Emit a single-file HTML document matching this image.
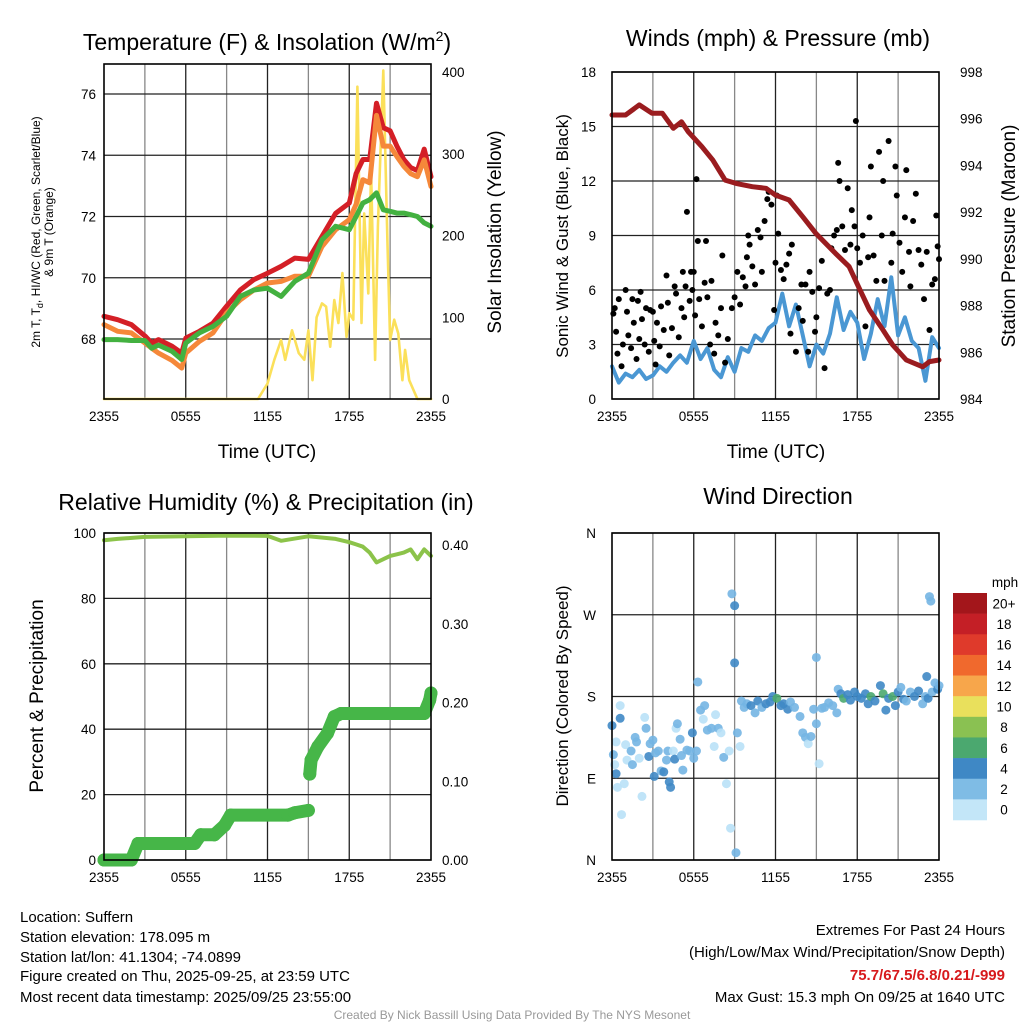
<!DOCTYPE html>
<html><head><meta charset="utf-8"><style>
body{margin:0;background:#fff}
svg{display:block;font-family:"Liberation Sans",Arial,sans-serif}
</style></head><body>
<svg id="s" width="1024" height="1024" viewBox="0 0 1024 1024" xmlns="http://www.w3.org/2000/svg">
<g id="g1"></g>
<g id="g2"></g>
<g id="g3"></g>
<g id="g4"></g>
<text x="267" y="50" font-size="23" text-anchor="middle">Temperature (F) &amp; Insolation (W/m<tspan font-size="14" dy="-9">2</tspan><tspan dy="9">)</tspan></text>
<text x="778" y="46" font-size="23" text-anchor="middle">Winds (mph) &amp; Pressure (mb)</text>
<text x="266" y="510" font-size="23" text-anchor="middle">Relative Humidity (%) &amp; Precipitation (in)</text>
<text x="778" y="504" font-size="23" text-anchor="middle">Wind Direction</text>
<text x="267" y="458" font-size="19" text-anchor="middle">Time (UTC)</text>
<text x="776" y="458" font-size="19" text-anchor="middle">Time (UTC)</text>
<text transform="translate(40,232) rotate(-90)" font-size="12" text-anchor="middle">2m T, T<tspan font-size="9" dy="3">d</tspan><tspan dy="-3">, HI/WC (Red, Green, Scarlet/Blue)</tspan></text>
<text transform="translate(53,232) rotate(-90)" font-size="12" text-anchor="middle">&amp; 9m T (Orange)</text>
<text transform="translate(501,232) rotate(-90)" font-size="19" text-anchor="middle">Solar Insolation (Yellow)</text>
<text transform="translate(568,236) rotate(-90)" font-size="17" text-anchor="middle">Sonic Wind &amp; Gust (Blue, Black)</text>
<text transform="translate(1015,236) rotate(-90)" font-size="19" text-anchor="middle">Station Pressure (Maroon)</text>
<text transform="translate(43,696) rotate(-90)" font-size="19" text-anchor="middle">Percent &amp; Precipitation</text>
<text transform="translate(568,696) rotate(-90)" font-size="17" text-anchor="middle">Direction (Colored By Speed)</text>
<g font-size="15">
<text x="20" y="922">Location: Suffern</text>
<text x="20" y="942">Station elevation: 178.095 m</text>
<text x="20" y="962">Station lat/lon: 41.1304; -74.0899</text>
<text x="20" y="981">Figure created on Thu, 2025-09-25, at 23:59 UTC</text>
<text x="20" y="1002">Most recent data timestamp: 2025/09/25 23:55:00</text>
</g>
<g font-size="15" text-anchor="end">
<text x="1005" y="935">Extremes For Past 24 Hours</text>
<text x="1005" y="957">(High/Low/Max Wind/Precipitation/Snow Depth)</text>
<text x="1005" y="980" fill="#d7191c" font-weight="bold">75.7/67.5/6.8/0.21/-999</text>
<text x="1005" y="1002">Max Gust: 15.3 mph On 09/25 at 1640 UTC</text>
</g>
<text x="512" y="1019" font-size="12" fill="#999" text-anchor="middle">Created By Nick Bassill Using Data Provided By The NYS Mesonet</text>
</svg>
<script>
// ---- data ----
const xTickLabels=["2355","0555","1155","1755","2355"];
const tT=[0,1,2,3,3.5,4,5,5.7,6,7,8,9,10,11,12,13,14,15,16,17,18,18.5,19,19.5,20,20.5,21,21.5,22,22.5,23,23.5,24];
const tRed=[68.74,68.63,68.47,68.1,67.87,67.98,67.76,67.54,68.03,68.25,68.52,69.07,69.6,69.94,70.15,70.37,70.64,70.6,71.35,72.1,72.44,73.4,73.86,73.86,75.7,74.9,74.8,74.3,73.86,73.6,73.5,74.2,73.3];
const tOrange=[68.47,68.25,68.2,67.87,67.7,67.54,67.3,67.05,67.54,67.92,68.2,68.85,69.28,69.6,69.83,69.88,70.05,70.05,71.02,71.57,71.9,72.4,73.2,73.1,75.3,74.3,74.3,73.96,73.64,73.4,73.3,73.85,72.98];
const tGreen=[67.98,67.98,67.95,67.95,67.7,67.8,67.6,67.33,67.87,68.2,68.41,68.74,69.39,69.6,69.66,69.39,69.88,70.15,71.24,71.68,71.57,72.0,72.44,72.55,72.77,72.22,72.17,72.11,72.11,72.06,72.0,71.79,71.68];
const sT=[0,11.3,12,12.5,13,13.3,13.8,14.3,14.7,15,15.3,15.6,16,16.3,16.6,16.9,17.2,17.5,17.8,18,18.3,18.6,18.9,19.1,19.4,19.6,19.9,20.1,20.5,20.8,21,21.3,21.6,21.9,22.1,22.4,23,24];
const sV=[0,0,19,48,72,48,84,56,48,84,23,100,117,113,64,121,93,154,76,105,97,382,93,227,129,280,48,211,402,194,72,97,80,23,60,23,0,0];
const tempTicks=[68,70,72,74,76];
const solarTicks=[0,100,200,300,400];
const pT=[0,1,2,2.94,3.7,4.5,5.1,5.6,6.6,7.4,8.3,9.1,10.3,11.3,12,13,14,14.95,16.4,17.4,18.1,18.9,19.9,20.6,21.6,22.8,23.3,24];
const pV=[996.16,996.16,996.59,996.23,996.23,995.59,995.87,995.44,994.8,994.23,993.37,993.23,993.09,993.02,992.73,992.52,991.8,991.1,990.24,989.67,988.8,987.81,986.95,986.31,985.67,985.38,985.6,985.67];
const wV=[1.8,0.9,1.4,1.2,1.6,1.1,1.3,1.8,1.5,2.0,2.4,2.0,3.2,2.2,2.8,1.6,1.2,2.3,1.5,2.8,2.6,3.5,3.2,3.9,4.2,5.8,4.0,5.2,3.5,1.8,3.0,2.5,3.6,5.6,3.8,4.8,4.2,2.2,3.6,5.5,4.0,6.7,3.5,4.5,3.2,2.8,1.0,3.4,2.8];
const gT=[0.1,0.2,0.3,0.4,0.5,0.7,0.8,1.0,1.1,1.2,1.4,1.5,1.6,1.8,1.9,2.0,2.1,2.2,2.4,2.5,2.7,2.8,3.0,3.1,3.2,3.3,3.5,3.6,3.8,4.0,4.1,4.2,4.4,4.6,4.7,4.9,5.1,5.2,5.3,5.4,5.5,5.7,5.8,5.9,6.0,6.1,6.2,6.3,6.4,6.6,6.8,6.9,7.0,7.2,7.3,7.5,7.6,7.8,8.0,8.1,8.3,8.5,8.8,9.0,9.2,9.4,9.6,9.8,9.9,10.0,10.1,10.3,10.5,10.7,10.9,11.0,11.2,11.4,11.5,11.7,11.9,12.0,12.1,12.2,12.4,12.6,12.8,13.0,13.1,13.2,13.5,13.7,13.9,14.0,14.2,14.4,14.5,14.7,14.9,15.0,15.2,15.4,15.6,15.8,16.0,16.1,16.3,16.5,16.6,16.7,16.9,17.1,17.3,17.5,17.6,17.8,17.9,18.0,18.2,18.4,18.6,18.8,18.9,19.0,19.2,19.4,19.6,19.8,19.9,20.0,20.3,20.5,20.6,20.8,20.9,21.1,21.3,21.5,21.6,21.8,21.9,22.1,22.3,22.5,22.7,22.9,23.1,23.3,23.5,23.7,23.8,23.9,24.0];
const gV=[4.7,5.0,3.7,2.5,5.5,1.8,3.0,6.0,4.8,3.5,2.8,5.5,4.2,2.2,5.4,3.3,5.9,4.4,3.0,5.0,2.6,4.9,4.8,3.2,1.9,4.2,2.9,5.1,3.8,6.8,5.3,2.4,3.9,6.2,5.8,3.4,5.0,7.0,4.5,6.2,10.3,5.4,7.0,6.0,7.0,4.6,12.1,8.7,5.5,4.0,6.4,8.7,5.6,3.0,6.5,2.5,4.2,3.5,5.0,7.9,2.0,3.3,5.0,5.6,7.0,5.2,6.7,6.2,7.8,9.0,8.5,7.3,6.3,9.3,8.9,7.0,9.8,11.0,11.4,10.7,4.9,7.5,11.2,9.1,7.1,6.6,7.4,8.0,3.6,8.5,2.6,5.0,6.3,4.3,6.3,2.6,7.0,5.9,3.7,4.5,6.1,7.6,1.7,5.8,6.0,8.3,9.0,9.3,13.0,12.0,9.5,8.2,11.6,8.5,10.4,9.5,15.3,8.3,7.5,9.0,4.0,7.8,10.0,12.8,7.9,6.5,13.6,9.0,12.0,6.5,14.2,7.5,9.1,12.8,11.2,8.6,7.0,10.0,12.6,8.1,6.2,9.8,11.3,8.2,7.4,5.5,8.1,3.8,6.3,6.6,10.1,8.4,7.7];
const windTicks=[0,3,6,9,12,15,18];
const presTicks=[984,986,988,990,992,994,996,998];
const rhT=[0,1,3,6,9,12,13,15,17,18,18.5,19,19.5,20,20.5,21,21.5,22,22.5,23,23.5,24];
const rhV=[97.8,98.2,98.8,99.0,99.2,99.1,97.6,99.0,98.2,97.2,96.5,95.8,94.0,91.0,92.0,93.0,93.5,94.0,95.0,92.0,95.0,93.0];
const prT=[0,2.0,2.5,6.65,7.1,8.1,8.85,9.3,13.5,14,15,15.1,15.2,15.7,16.4,16.9,17.4,23.5,23.9,24];
const prV=[0,0,0.021,0.021,0.032,0.032,0.044,0.057,0.057,0.06,0.063,0.109,0.127,0.144,0.161,0.182,0.186,0.186,0.203,0.212];
const pctTicks=[0,20,40,60,80,100];
const inTicks=["0.00","0.10","0.20","0.30","0.40"];
const dT=[0.0,0.1,0.2,0.3,0.4,0.3,0.6,0.6,0.7,0.9,1.0,1.1,1.4,1.5,1.7,1.8,2.0,2.2,2.4,2.5,2.7,2.8,3.0,3.1,3.2,3.4,3.6,3.8,4.0,4.1,4.2,4.3,4.5,4.6,4.7,4.8,5.0,5.1,5.2,5.5,5.7,5.9,6.0,6.2,6.3,6.5,6.7,6.8,7.0,7.3,7.5,7.6,7.8,8.0,8.2,8.4,8.6,8.7,8.8,9.0,9.0,9.1,9.2,9.4,9.5,9.7,9.9,10.2,10.5,10.7,11.0,11.3,11.6,11.8,12.1,12.4,12.6,12.9,13.1,13.4,13.8,14.0,14.2,14.4,14.6,14.8,15.0,15.2,15.4,15.0,15.6,15.9,16.2,16.5,16.6,16.8,17.0,17.3,17.5,17.8,18.0,18.3,18.6,18.8,19.0,19.3,19.7,19.9,20.1,20.3,20.6,20.8,21.0,21.2,21.4,21.6,21.9,22.2,22.5,22.8,23.0,23.1,23.2,23.3,23.4,23.5,23.7,23.9,24.0];
const dD=[148,116,105,95,80,130,170,156,50,84,127,110,120,105,135,130,112,70,157,145,114,128,132,92,118,120,98,97,110,120,86,80,120,111,145,150,133,115,99,121,120,140,112,120,196,165,155,170,143,145,125,160,145,140,113,84,120,35,293,280,217,8,140,125,175,168,172,170,162,175,168,172,174,180,178,170,172,166,174,168,158,140,135,128,136,166,150,106,167,223,168,173,170,162,188,183,178,182,176,185,180,178,183,172,180,175,192,183,165,178,180,170,185,190,177,175,185,180,186,172,180,202,178,290,285,185,195,188,192];
const dC=[2,1,0,2,0,0,0,2,0,0,0,0,1,1,1,1,0,0,0,1,2,1,1,2,1,1,1,2,1,1,2,2,0,2,0,1,1,1,1,1,1,2,1,1,1,1,0,1,1,1,0,0,1,0,1,0,0,0,1,2,2,1,1,0,1,1,1,2,1,2,1,2,2,2,3,2,2,2,1,1,1,1,1,0,1,1,1,0,1,1,1,1,1,1,1,2,3,2,2,2,2,2,2,2,3,2,2,3,2,2,3,2,2,1,2,1,1,2,2,1,1,2,2,1,1,1,1,2,1];
const cbLabels=["20+","18","16","14","12","10","8","6","4","2","0"];
const cbColors=["#a3161b","#c41f26","#df3a2b","#f0692d","#f7a64b","#e9e05c","#8ac152","#4ba86f","#3f88c5","#7fbce5","#c3e6f8"];
const dirColors=["#b9e1f7","#74b5e3","#3f88c5","#4ba86f"];

const NS="http://www.w3.org/2000/svg";
function mk(parent,tag,attrs){const e=document.createElementNS(NS,tag);for(const k in attrs)e.setAttribute(k,attrs[k]);parent.appendChild(e);return e;}
function panelFrame(g,x0,y0,x1,y1){
  for(let i=1;i<8;i++){const x=x0+(x1-x0)*i/8;
    const l=mk(g,"line",{x1:x,x2:x,y1:y0,y2:y1,stroke:i%2?"#888":"#222","stroke-width":1.3});
    
    }
  xTickLabels.forEach((s,i)=>{const t=mk(g,"text",{x:x0+(x1-x0)*i/4,y:y1+22,"font-size":13.5,"text-anchor":"middle"});t.textContent=s;
    
    });
}
function hline(g,x0,x1,y){const l=mk(g,"line",{x1:x0,x2:x1,y1:y,y2:y,stroke:"#222","stroke-width":1.3});
  
  }
function border(g,x0,y0,x1,y1){const r=mk(g,"rect",{x:x0,y:y0,width:x1-x0,height:y1-y0,fill:"none",stroke:"#000","stroke-width":1.6});
  
  }
function label(g,x,y,s,anchor,name){const t=mk(g,"text",{x:x,y:y+5,"font-size":13.5,"text-anchor":anchor});t.textContent=s;
  
  }
function poly(g,xs,ys,fx,fy,color,w,name){
  const pts=xs.map((h,i)=>fx(h).toFixed(1)+","+fy(ys[i]).toFixed(1)).join(" ");
  const p=mk(g,"polyline",{points:pts,fill:"none",stroke:color,"stroke-width":w,"stroke-linejoin":"round","stroke-linecap":"round"});
  
  }

// Panel 1
(function(){
  const g=document.getElementById("g1");const X0=104,X1=431,Y0=64,Y1=399;
  const fx=h=>X0+h/24*(X1-X0), fy=t=>339-(t-68)*30.625, fs=v=>399-v*0.8175;
  panelFrame(g,X0,Y0,X1,Y1);
  tempTicks.forEach(t=>{hline(g,X0,X1,fy(t));label(g,96,fy(t),String(t),"end","temp-tick-label");});
  solarTicks.forEach(v=>label(g,442,fs(v),String(v),"start","solar-tick-label"));
  poly(g,sT,sV,fx,fs,"#fbe05a",2.6,"solar-line");
  poly(g,tT,tRed,fx,fy,"#d41f26",5,"temp-2m-line");
  poly(g,tT,tOrange,fx,fy,"#f5883a",5,"temp-9m-line");
  poly(g,tT,tGreen,fx,fy,"#43b140",5,"dewpoint-line");
  border(g,X0,Y0,X1,Y1);
})();
// Panel 2
(function(){
  const g=document.getElementById("g2");const X0=612,X1=939,Y0=72,Y1=399;
  const fx=h=>X0+h/24*(X1-X0), fy=v=>Y1-v*(Y1-Y0)/18, fp=p=>Y1-(p-984)*(Y1-Y0)/14;
  panelFrame(g,X0,Y0,X1,Y1);
  windTicks.forEach(v=>{hline(g,X0,X1,fy(v));label(g,596,fy(v),String(v),"end","wind-tick-label");});
  presTicks.forEach(p=>label(g,960,fp(p),String(p),"start","pressure-tick-label"));
  const wT=wV.map((v,i)=>i*0.5);
  poly(g,wT,wV,fx,fy,"#4a97d3",4,"sonic-wind-line");
  gT.forEach((h,i)=>{const c=mk(g,"circle",{cx:fx(h),cy:fy(gV[i]),r:3,fill:"#000"});
    
    });
  poly(g,pT,pV,fx,fp,"#9a1c1f",5,"pressure-line");
  border(g,X0,Y0,X1,Y1);
})();
// Panel 3
(function(){
  const g=document.getElementById("g3");const X0=104,X1=431,Y0=533,Y1=860;
  const fx=h=>X0+h/24*(X1-X0), fy=v=>Y1-v*3.27, fi=v=>Y1-v*787.5;
  panelFrame(g,X0,Y0,X1,Y1);
  pctTicks.forEach(v=>{hline(g,X0,X1,fy(v));label(g,96,fy(v),String(v),"end","percent-tick-label");});
  inTicks.forEach(s=>label(g,442,fi(parseFloat(s)),s,"start","precip-tick-label"));
  poly(g,rhT,rhV,fx,fy,"#8cc34a",4,"humidity-line");
  for(let i=0;i<prT.length;i++){
    if(i>0 && Math.abs(prV[i]-prV[i-1])<0.03){const l=mk(g,"line",{x1:fx(prT[i-1]),y1:fi(prV[i-1]),x2:fx(prT[i]),y2:fi(prV[i]),stroke:"#46b648","stroke-width":13,"stroke-linecap":"round"});
      
      }
    const c=mk(g,"circle",{cx:fx(prT[i]),cy:fi(prV[i]),r:6.5,fill:"#46b648"});
    
    
  }
  border(g,X0,Y0,X1,Y1);
})();
// Panel 4
(function(){
  const g=document.getElementById("g4");const X0=612,X1=939,Y0=533,Y1=860;
  const fx=h=>X0+h/24*(X1-X0), fy=d=>Y1-d*(Y1-Y0)/360;
  panelFrame(g,X0,Y0,X1,Y1);
  ["N","E","S","W","N"].forEach((s,i)=>{hline(g,X0,X1,fy(i*90));label(g,596,fy(i*90),s,"end","direction-tick-label");});
  dT.forEach((h,i)=>{const c=mk(g,"circle",{cx:fx(h),cy:fy(dD[i]),r:4.5,fill:dirColors[dC[i]],"fill-opacity":0.9});
    
    });
  border(g,X0,Y0,X1,Y1);
  const t=mk(g,"text",{x:1005,y:587,"font-size":13.5,"text-anchor":"middle"});t.textContent="mph";
  
  
  const bh=(820-593)/cbColors.length;
  cbColors.forEach((c,i)=>{const r=mk(g,"rect",{x:953,y:593+i*bh,width:34,height:bh+0.3,fill:c});
    
    
    label(g,1004,593+(i+0.5)*bh,cbLabels[i],"middle","colorbar-label");});
})();
</script>
</body></html>
